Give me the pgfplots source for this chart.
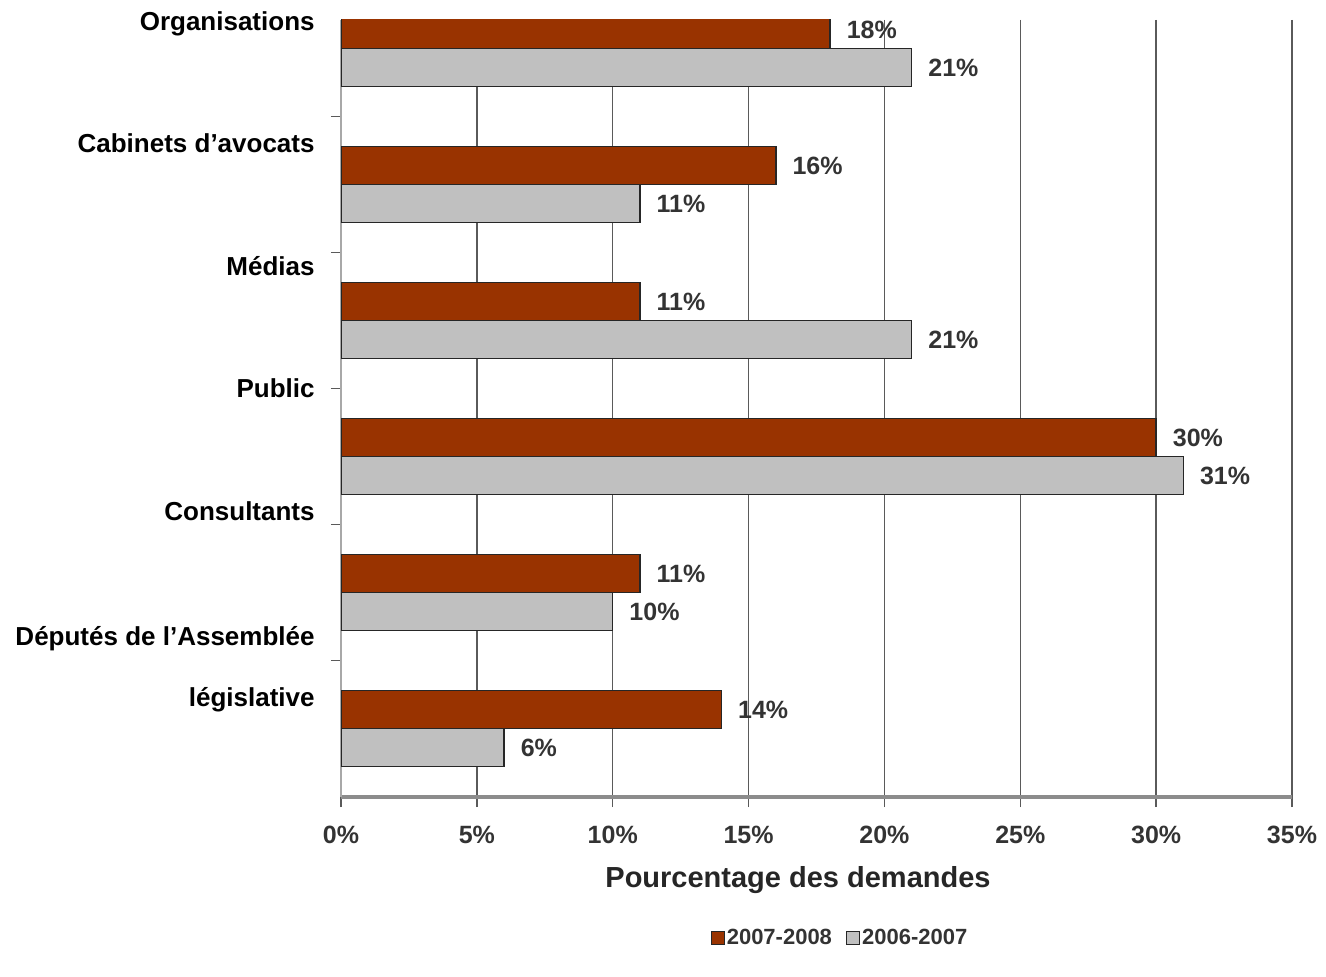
\documentclass[border=0pt]{standalone}
\usepackage{pgfplots}
\pgfplotsset{compat=1.18}
\usepackage{fontspec}
\setmainfont{Liberation Sans}
\definecolor{barred}{HTML}{993300}
\definecolor{bargray}{HTML}{C0C0C0}
\definecolor{txtgray}{HTML}{333333}
\definecolor{gridgray}{HTML}{5A5A5A}
\definecolor{axgray}{HTML}{8C8C8C}
\definecolor{laxgray}{HTML}{A8A8A8}
\begin{document}
\begin{tikzpicture}
\useasboundingbox (-170.5pt,-90pt) rectangle (492.5pt,398.5pt);
\begin{axis}[
  at={(0pt,0pt)}, anchor=south west,
  scale only axis, width=475.5pt, height=388.5pt,
  xmin=0, xmax=35, ymin=-0.2096, ymax=5.504, y dir=reverse,
  axis x line*=bottom, axis y line*=left,
  x axis line style={draw=axgray, line width=1.75pt, -},
  y axis line style={draw=laxgray, line width=0.9pt, -},
  xtick={0,5,...,35},
  xticklabel={\pgfmathprintnumber{\tick}\%},
  ytick={0.5,1.5,2.5,3.5,4.5}, yticklabels={},
  tick align=outside,
  xtick style={draw=gridgray, line width=0.75pt},
  ytick style={draw=gridgray, line width=0.75pt},
  major tick length=5pt,
  xmajorgrids, grid style={draw=gridgray, line width=0.75pt},
  /pgf/number format/assume math mode=true,
  ticklabel style={font=\fontsize{12.5}{15}\selectfont\bfseries, text=txtgray},
  xticklabel style={yshift=-6pt},
  point meta=x,
  nodes near coords={\pgfmathprintnumber{\pgfplotspointmeta}\%},
  nodes near coords style={font=\fontsize{12.5}{15}\selectfont\bfseries, text=txtgray, anchor=west, inner sep=0pt, xshift=8pt},
  legend columns=2,
  legend style={at={(0.5247,-0.1815)}, anchor=center, draw=none, fill=none,
    font=\fontsize{11}{13}\selectfont\bfseries, text=txtgray,
    /tikz/every even column/.append style={column sep=6pt},
    nodes={inner sep=1pt}},
]
% 2007-2008 (red), drawn just above each group centre
\addplot[xbar, bar width=0.28, bar shift=0pt, fill=barred, draw=black!85, line width=0.75pt,
  legend image code/.code={\draw[fill=barred, draw=black!85, line width=0.6pt] (0pt,-3.25pt) rectangle (6.5pt,3.25pt);}]
  coordinates {(18,-0.14) (16,0.86) (11,1.86) (30,2.86) (11,3.86) (14,4.86)};
\addlegendentry{2007-2008}
% 2006-2007 (grey), drawn just below each group centre
\addplot[xbar, bar width=0.28, bar shift=0pt, fill=bargray, draw=black!85, line width=0.75pt,
  legend image code/.code={\draw[fill=bargray, draw=black!85, line width=0.6pt] (0pt,-3.25pt) rectangle (6.5pt,3.25pt);}]
  coordinates {(21,0.14) (11,1.14) (21,2.14) (31,3.14) (10,4.14) (6,5.14)};
\addlegendentry{2006-2007}
\end{axis}
\begin{scope}[every node/.style={anchor=base east, font=\fontsize{13}{15}\selectfont\bfseries, text=black, inner sep=0pt}]
\node at (-13pt,383pt) {Organisations};
\node at (-13pt,322pt) {Cabinets d’avocats};
\node at (-13pt,260.5pt) {Médias};
\node at (-13pt,199.5pt) {Public};
\node at (-13pt,138pt) {Consultants};
\node at (-13pt,75.5pt) {Députés de l’Assemblée};
\node at (-13pt,45pt) {législative};
\end{scope}
\node[font=\fontsize{14.5}{17}\selectfont\bfseries, text=black!85] at (228.5pt,-41.5pt) {Pourcentage des demandes};
\end{tikzpicture}
\end{document}
